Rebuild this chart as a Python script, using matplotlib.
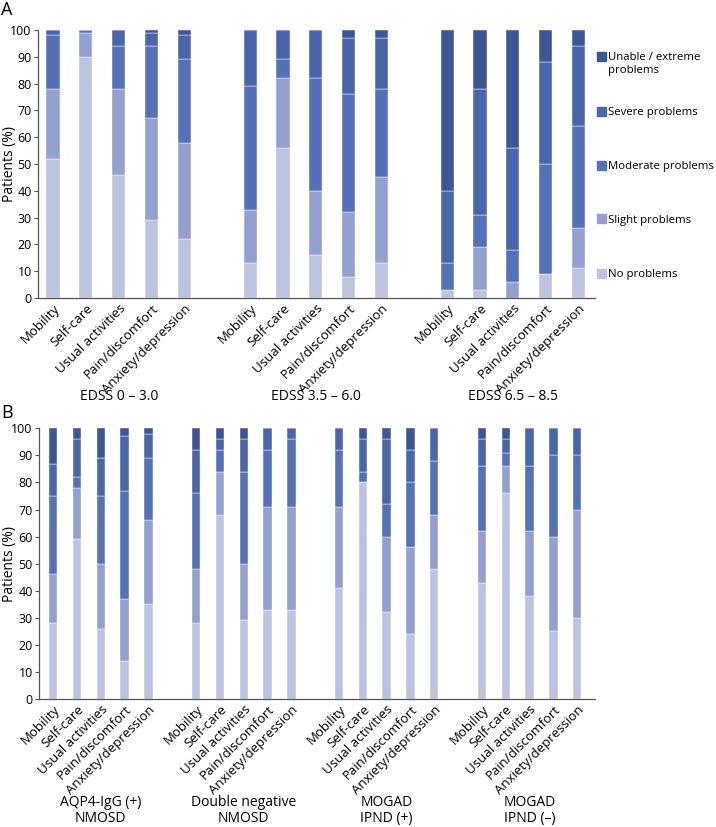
import numpy as np
import matplotlib
matplotlib.use("Agg")
import matplotlib.pyplot as plt
from matplotlib.patches import Rectangle

plt.rcParams["font.family"] = ["Open Sans", "DejaVu Sans"]

dimensions = ["Mobility", "Self-care", "Usual activities", "Pain/discomfort", "Anxiety/depression"]
levels = ["No problems", "Slight problems", "Moderate problems", "Severe problems", "Unable / extreme\nproblems"]
colors = ["#bcc4e2", "#93a0d0", "#5572b8", "#4a66ab", "#3f5696"]

# panel A: EDSS groups, rows = dimension, cols = level (No, Slight, Moderate, Severe, Unable)
groups_a = ["EDSS 0 – 3.0", "EDSS 3.5 – 6.0", "EDSS 6.5 – 8.5"]
edss_low = [[52, 26, 20, 2, 0],
            [90, 9, 1, 0, 0],
            [46, 32, 16, 6, 0],
            [29, 38, 27, 5, 1],
            [22, 36, 31, 9, 2]]
edss_mid = [[13, 20, 46, 21, 0],
            [56, 26, 7, 11, 0],
            [16, 24, 42, 18, 0],
            [8, 24, 44, 21, 3],
            [13, 32, 33, 19, 3]]
edss_high = [[3, 0, 10, 27, 60],
             [3, 16, 12, 47, 22],
             [0, 6, 12, 38, 44],
             [9, 0, 41, 38, 12],
             [11, 15, 38, 30, 6]]

# panel B: diagnosis groups
groups_b = ["AQP4-IgG (+)\nNMOSD", "Double negative\nNMOSD", "MOGAD\nIPND (+)", "MOGAD\nIPND (–)"]
aqp4 = [[28, 18, 29, 12, 13],
        [59, 19, 4, 14, 4],
        [26, 24, 25, 14, 11],
        [14, 23, 40, 20, 3],
        [35, 31, 23, 9, 2]]
double_neg = [[28, 20, 28, 16, 8],
              [68, 16, 8, 4, 4],
              [29, 21, 34, 12, 4],
              [33, 38, 21, 8, 0],
              [33, 38, 25, 4, 0]]
mogad_pos = [[41, 30, 21, 8, 0],
             [80, 0, 4, 12, 4],
             [32, 28, 12, 24, 4],
             [24, 32, 24, 12, 8],
             [48, 20, 20, 12, 0]]
mogad_neg = [[43, 19, 24, 10, 4],
             [76, 10, 5, 5, 4],
             [38, 24, 24, 14, 0],
             [25, 35, 30, 10, 0],
             [30, 40, 20, 10, 0]]

fig = plt.figure(figsize=(7.16, 8.27), dpi=100)


def draw_panel(ax, data_list, group_names, width, label_y):
    pos = []
    for g, data in enumerate(data_list):
        x = np.arange(5) + g * 6
        pos.extend(x)
        vals = np.array(data, dtype=float)
        bottom = np.zeros(5)
        for k in range(5):
            ax.bar(x, vals[:, k], width, bottom=bottom, color=colors[k],
                   edgecolor="white", linewidth=0.3)
            bottom += vals[:, k]
        ax.text(g * 6 + 2, label_y, group_names[g], transform=ax.get_xaxis_transform(),
                ha="center", va="center", fontsize=10, linespacing=1.1)
    ax.set_xticks(pos)
    ax.set_xticklabels(dimensions * len(data_list), rotation=45, ha="right",
                       rotation_mode="anchor", fontsize=9.5)
    ax.tick_params(axis="x", length=0, pad=3)
    ax.set_ylim(0, 100)
    ax.set_yticks(range(0, 101, 10))
    ax.tick_params(axis="y", labelsize=9, length=3, width=0.8, color="#555555", pad=1.5)
    ax.set_ylabel("Patients (%)", fontsize=10)
    for s in ["top", "right"]:
        ax.spines[s].set_visible(False)
    for s in ["left", "bottom"]:
        ax.spines[s].set_color("#555555")
        ax.spines[s].set_linewidth(0.9)


ax_a = fig.add_axes([0.053, 0.6397, 0.778, 0.324])
draw_panel(ax_a, [edss_low, edss_mid, edss_high], groups_a, 0.4, -0.366)
ax_a.set_xlim(-0.46, 16.5)
ax_a.yaxis.set_label_coords(-0.038, 0.5)

ax_b = fig.add_axes([0.0545, 0.155, 0.777, 0.327])
draw_panel(ax_b, [aqp4, double_neg, mogad_pos, mogad_neg], groups_b, 0.35, -0.414)
ax_b.set_xlim(-0.59, 22.76)
ax_b.yaxis.set_label_coords(-0.04, 0.5)

fig.text(0.002, 0.999, "A", fontsize=13, va="top")
fig.text(0.002, 0.512, "B", fontsize=13, va="top")

# legend, drawn from the top entry down
leg_y = [56, 111, 165, 219, 273]
for k in range(5):
    lvl = 4 - k
    y = 1 - leg_y[k] / 827
    fig.patches.append(Rectangle((597 / 716, y - 4.5 / 827), 9 / 716, 9 / 827,
                                 transform=fig.transFigure, color=colors[lvl]))
    fig.text(608 / 716, y + 3.5 / 827, levels[lvl], fontsize=8.2, va="top", linespacing=1.25)

fig.savefig("out.png", dpi=100)
